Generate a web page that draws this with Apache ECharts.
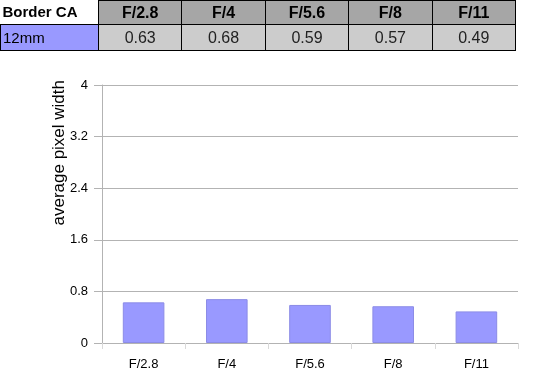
<!DOCTYPE html>
<html><head><meta charset="utf-8">
<script src="https://cdn.jsdelivr.net/npm/echarts@6/dist/echarts.min.js"></script>
<style>
html,body{margin:0;padding:0;background:#fff;}
#chart{position:absolute;left:0;top:0;width:533px;height:381px;}
#tbl{position:absolute;left:0;top:0;border-collapse:collapse;table-layout:fixed;font-family:"Liberation Sans",Arial,sans-serif;font-size:16px;z-index:2;}
#tbl td{padding:0;border:1px solid #000;overflow:hidden;white-space:nowrap;line-height:18px;}
#tbl tr.h td{height:23px;background:#a6a6a6;font-weight:bold;text-align:center;}
#tbl tr.h td.first{background:#fff;border:none;border-bottom:1px solid #000;text-align:left;padding-left:2px;font-size:15px;}
#tbl tr.d td{height:25px;background:#cccccc;text-align:center;color:#222;}
#tbl tr.d td.first{background:#9999ff;text-align:left;padding-left:2px;color:#000;font-size:15px;}
</style></head>
<body>
<table id="tbl"></table>
<div id="chart"></div>
<script>
const tableTitle = "Border CA";
const seriesName = "12mm";
const categories = ["F/2.8", "F/4", "F/5.6", "F/8", "F/11"];
const values = [0.63, 0.68, 0.59, 0.57, 0.49];
const valueLabels = ["0.63", "0.68", "0.59", "0.57", "0.49"];
const yTicks = [0, 0.8, 1.6, 2.4, 3.2, 4];
const yAxisTitle = "average pixel width";

// table
const tbl = document.getElementById('tbl');
let html = '<colgroup><col style="width:98px">' + categories.map(()=>'<col style="width:83.4px">').join('') + '</colgroup>';
html += '<tr class="h"><td class="first">' + tableTitle + '</td>' + categories.map(c=>'<td>'+c+'</td>').join('') + '</tr>';
html += '<tr class="d"><td class="first">' + seriesName + '</td>' + valueLabels.map(v=>'<td>'+v+'</td>').join('') + '</tr>';
tbl.innerHTML = html;

const chart = echarts.init(document.getElementById('chart'));
const font = '"Liberation Sans", Arial, sans-serif';
chart.setOption({
  animation: false,
  grid: {left: 102, right: 15, top: 85, bottom: 38},
  xAxis: {
    type: 'category', data: categories,
    axisLine: {lineStyle: {color: '#b3b3b3'}},
    axisTick: {show: true, length: 6, lineStyle: {color: '#d9d9d9'}},
    axisLabel: {color: '#000', fontFamily: font, fontSize: 13, margin: 15}
  },
  yAxis: {
    type: 'value', min: yTicks[0], max: yTicks[yTicks.length-1], interval: 0.8,
    axisLine: {show: true, lineStyle: {color: '#b3b3b3'}},
    axisTick: {show: true, length: 8, lineStyle: {color: '#b3b3b3'}},
    splitLine: {lineStyle: {color: '#b3b3b3'}},
    axisLabel: {color: '#000', fontFamily: font, fontSize: 13, margin: 14}
  },
  graphic: [{
    type: 'text', left: 51, top: 80, rotation: Math.PI/2,
    style: {text: yAxisTitle, fontFamily: font, fontSize: 17, fill: '#000'}
  }],
  series: [{
    type: 'bar', data: values, barWidth: '50%',
    itemStyle: {color: '#9999ff', borderColor: '#8c8ce6', borderWidth: 1}
  }]
});
</script>
</body></html>
